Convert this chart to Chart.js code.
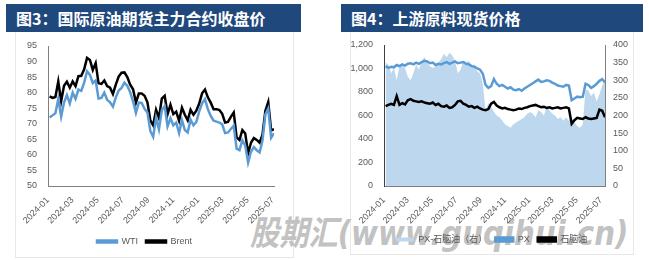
<!DOCTYPE html>
<html>
<head>
<meta charset="utf-8">
<script src="https://cdn.jsdelivr.net/npm/chart.js@4.4.1/dist/chart.umd.min.js"></script>
<style>
body{margin:0;width:649px;height:260px;background:#fff;position:relative;overflow:hidden}
.title{position:absolute;top:4px;height:28px;background:#1f497d;color:#fff;font:bold 16px 'Noto Sans CJK SC',sans-serif;line-height:28px;padding-left:10px;box-sizing:border-box;white-space:nowrap}
.box{position:absolute;top:32px;border:1px solid #e8e8e8;border-top:none;box-sizing:border-box}
canvas{position:absolute;z-index:2}
#wm{position:absolute;left:250px;top:206px;z-index:1;font:italic bold 34px 'DejaVu Sans','Noto Sans CJK SC',sans-serif;color:#c2c2c2;white-space:nowrap;transform:scaleX(0.86);transform-origin:0 0}
</style>
</head>
<body>
<div class="title" style="left:6px;width:295px">图3：国际原油期货主力合约收盘价</div>
<div class="title" style="left:341px;width:302px">图4：上游原料现货价格</div>
<div class="box" style="left:15px;width:279px;height:226px"></div>
<div class="box" style="left:350px;width:284px;height:223px"></div>
<div id="wm">股期汇(www.guqihui.cn)</div>
<canvas id="c1" width="278" height="225" style="left:15px;top:32px"></canvas>
<canvas id="c2" width="283" height="223" style="left:350px;top:32px"></canvas>
<script>
// month ticks on the date axis
var tickLabels = ['2024-01','2024-03','2024-05','2024-07','2024-09','2024-11','2025-01','2025-03','2025-05','2025-07']
var tickDates = ['2024-01-01','2024-03-01','2024-05-01','2024-07-01','2024-09-01','2024-11-01','2025-01-01','2025-03-01','2025-05-01','2025-07-01']
var firstWeek = '2024-01-05'

// weekly closes, USD/bbl
var wti = [72.0, 72.7, 73.4, 78.0, 72.3, 76.8, 79.2, 76.5, 80.0, 78.0,
  81.0, 80.6, 83.2, 86.9, 85.7, 83.1, 83.9, 78.1, 78.3, 80.0,
  77.7, 76.9, 75.5, 78.5, 80.7, 81.5, 83.2, 82.2, 80.1, 77.2,
  73.5, 76.8, 76.7, 74.8, 73.6, 67.7, 65.8, 71.9, 68.2, 74.4,
  75.6, 69.2, 71.8, 69.5, 70.4, 67.0, 71.2, 68.0, 67.2, 71.3,
  69.5, 70.6, 74.0, 76.6, 77.9, 74.7, 72.5, 71.0, 70.7, 70.4,
  69.8, 67.0, 67.2, 68.3, 69.4, 62.0, 61.5, 64.7, 63.0, 57.5,
  61.0, 62.5, 61.5, 60.8, 64.6, 73.0, 74.9, 65.5, 67.0]
var brent = [78.8, 78.3, 78.6, 83.6, 77.3, 82.2, 83.5, 81.6, 83.6, 82.1,
  85.3, 85.4, 87.5, 91.2, 90.5, 87.3, 89.5, 83.0, 82.8, 83.9,
  82.1, 81.6, 79.6, 82.6, 85.2, 86.4, 86.5, 85.0, 82.6, 81.1,
  76.8, 79.7, 79.7, 79.0, 76.9, 71.1, 69.5, 74.5, 71.9, 78.1,
  79.0, 73.1, 76.1, 73.1, 73.9, 71.0, 75.2, 72.9, 71.1, 74.5,
  72.9, 74.2, 76.5, 79.8, 81.0, 78.5, 76.8, 74.7, 74.7, 74.4,
  73.2, 70.4, 70.6, 72.2, 73.6, 65.6, 64.8, 68.0, 66.9, 60.5,
  63.9, 65.4, 64.8, 63.9, 66.5, 74.2, 77.0, 67.8, 68.3]

// weekly spot, USD/t
var px = [1020, 1005, 1015, 1010, 1030, 1020, 1035, 1025, 1040, 1045,
  1035, 1050, 1040, 1055, 1065, 1060, 1045, 1050, 1030, 1040,
  1035, 1045, 1055, 1040, 1050, 1060, 1045, 1050, 1055, 1040,
  1035, 1020, 1015, 1000, 990, 955, 860, 835, 850, 910,
  870, 850, 860, 845, 830, 840, 820, 815, 825, 810,
  830, 845, 860, 875, 890, 905, 885, 890, 900, 895,
  880, 870, 855, 850, 845, 860, 855, 730, 745, 760,
  755, 760, 870, 860, 835, 850, 870, 895, 910, 880]
var naphtha = [680, 690, 700, 690, 765, 690, 705, 695, 730, 740,
  725, 720, 715, 720, 710, 705, 700, 710, 690, 700,
  680, 675, 685, 665, 670, 690, 720, 725, 700, 690,
  675, 680, 665, 675, 660, 650, 645, 655, 700, 715,
  685, 670, 660, 665, 655, 650, 645, 650, 660, 655,
  665, 670, 680, 685, 690, 680, 670, 675, 665, 670,
  660, 665, 670, 660, 665, 670, 660, 530, 560, 580,
  575, 570, 585, 575, 570, 575, 580, 650, 640, 585]
var spread = [350, 345, 320, 335, 300, 340, 345, 335, 310, 300,
  320, 345, 330, 355, 365, 350, 340, 335, 340, 350,
  360, 375, 365, 378, 370, 355, 320, 330, 355, 350,
  355, 340, 345, 325, 320, 290, 215, 235, 225, 210,
  200, 195, 185, 175, 170, 165, 175, 180, 185, 190,
  195, 205, 210, 205, 195, 215, 210, 200, 225, 215,
  205, 200, 190, 195, 185, 195, 185, 190, 180, 170,
  165, 175, 275, 270, 255, 265, 240, 260, 285, 300]

Chart.defaults.font.family = "'Liberation Sans','Noto Sans CJK SC',sans-serif"
Chart.defaults.font.size = 9
Chart.defaults.color = '#595959'

function dayOf(s) {
  return (Date.parse(s) - Date.parse('2024-01-01')) / 86400000
}
var tickDays = tickDates.map(dayOf)
function points(arr) {
  var d0 = dayOf(firstWeek)
  return arr.map(function (v, i) { return {x: d0 + 7 * i, y: v} })
}

function dateAxis(max, h) {
  return {
    type: 'linear', min: 0, max: max,
    grid: {display: false},
    border: {color: '#7f7f7f'},
    afterBuildTicks: function (s) { s.ticks = tickDays.map(function (v) { return {value: v} }) },
    afterFit: function (s) { s.height = h },
    ticks: {
      autoSkip: false, minRotation: 45, maxRotation: 45, padding: 1,
      callback: function (v) { return tickLabels[tickDays.indexOf(v)] }
    }
  }
}

function line(label, arr, color, axis) {
  return {label: label, data: points(arr), borderColor: color, backgroundColor: color,
    borderWidth: 2.5, pointRadius: 0, tension: 0, yAxisID: axis || 'y'}
}

var chart1 = new Chart(document.getElementById('c1'), {
  type: 'line',
  data: {datasets: [line('WTI', wti, '#5b9bd5'), line('Brent', brent, '#000000')]},
  options: {
    responsive: false, animation: false, devicePixelRatio: 1,
    layout: {padding: {top: 14, right: 19, bottom: 1, left: 0}},
    plugins: {
      tooltip: {enabled: false},
      legend: {position: 'bottom', labels: {boxWidth: 20, boxHeight: 2, padding: 8}}
    },
    scales: {
      x: dateAxis(550, 43),
      y: {min: 50, max: 95, grid: {display: false}, border: {color: '#7f7f7f'},
        ticks: {stepSize: 5, padding: 3},
        afterFit: function (s) { s.width = 33 }}
    }
  }
})

var area = {label: 'PX-石脑油（右）', data: points(spread), yAxisID: 'y2', fill: 'origin',
  backgroundColor: '#bdd7ee', borderColor: '#bdd7ee', borderWidth: 0, pointRadius: 0, tension: 0}

var chart2 = new Chart(document.getElementById('c2'), {
  type: 'line',
  data: {datasets: [area, line('PX', px, '#5b9bd5'), line('石脑油', naphtha, '#000000')]},
  options: {
    responsive: false, animation: false, devicePixelRatio: 1,
    layout: {padding: {top: 13, right: 0, bottom: 1, left: 0}},
    plugins: {
      tooltip: {enabled: false},
      filler: {drawTime: 'beforeDatasetsDraw'},
      legend: {position: 'bottom', labels: {boxWidth: 18, boxHeight: 4, padding: 8}}
    },
    scales: {
      x: dateAxis(557, 41),
      y: {min: 0, max: 1200, grid: {display: false}, border: {color: '#404040'},
        ticks: {stepSize: 200, padding: 3, callback: function (v) { return v.toLocaleString('en-US') }},
        afterFit: function (s) { s.width = 34 }},
      y2: {position: 'right', min: 0, max: 400, grid: {display: false}, border: {color: '#7f7f7f'},
        ticks: {stepSize: 50, padding: 0},
        afterFit: function (s) { s.width = 28 }}
    }
  }
})
</script>
</body>
</html>
